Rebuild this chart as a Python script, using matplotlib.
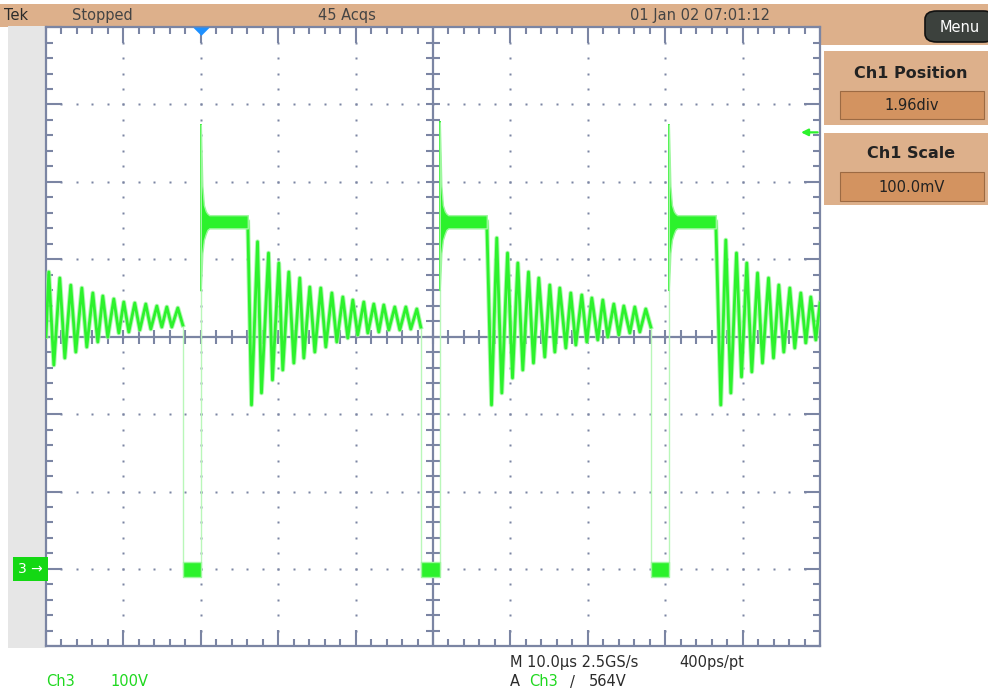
import numpy as np
import matplotlib
matplotlib.use('Agg')
import matplotlib.pyplot as plt
from matplotlib import font_manager
from matplotlib.patches import Rectangle, FancyBboxPatch
from matplotlib.path import Path
from matplotlib.ticker import MultipleLocator

# ---------------- data (time in us relative to trigger, Ch3 voltage in V) ----------------
ring0_t = [-20.0, -19.64, -18.99, -18.22, -17.57, -16.80, -16.15, -15.37, -14.73, -13.95,
           -13.31, -12.66, -12.02, -11.24, -10.59, -9.95, -9.30, -8.53, -7.88, -7.11,
           -6.46, -5.68, -5.04, -4.39, -3.75, -2.97, -2.33]
ring0_v = [300.0, 383.6, 263.4, 375.8, 272.5, 366.6, 280.2, 362.9, 286.7, 356.5,
           293.2, 352.6, 299.6, 348.7, 304.8, 344.8, 306.1, 343.5, 308.7, 342.2,
           309.9, 339.6, 312.5, 338.4, 312.5, 337.1, 315.1]

ring1_t = [6.07, 6.55, 7.33, 7.84, 8.75, 9.26, 10.08, 10.59, 11.37, 12.02, 12.79, 13.31,
           14.08, 14.73, 15.50, 16.15, 16.93, 17.57, 18.35, 18.99, 19.64, 20.28, 21.06,
           21.58, 22.35, 23.00, 23.64, 24.29, 25.06, 25.71, 26.49, 27.13, 27.91, 28.42]
ring1_v = [448.2, 211.8, 422.7, 227.3, 408.1, 244.1, 395.2, 257.0, 383.6, 266.0, 375.8,
           272.5, 364.2, 280.2, 362.9, 286.7, 356.5, 293.2, 351.3, 298.3, 347.4, 302.2,
           344.8, 304.8, 342.2, 306.1, 341.0, 308.7, 338.4, 308.7, 338.4, 309.9, 335.8, 312.5]

ring2_t = [36.95, 37.56, 38.24, 38.89, 39.63, 40.27, 40.96, 41.60, 42.34, 42.98, 43.67,
           44.44, 45.09, 45.74, 46.38, 47.16, 47.80, 48.45, 49.22, 49.87, 50.52, 51.29,
           51.94, 52.58, 53.36, 54.01, 54.65, 55.43, 56.07, 56.72, 57.49, 58.14]
ring2_v = [448.2, 211.8, 427.5, 227.3, 408.1, 246.7, 395.2, 257.0, 383.6, 266.0, 375.8,
           273.8, 366.8, 280.2, 362.9, 285.4, 356.5, 289.3, 353.9, 293.2, 350.0, 295.8,
           347.4, 299.6, 342.2, 302.2, 339.7, 304.8, 338.4, 306.1, 335.8, 312.5]

ring3_t = [66.54, 67.18, 67.83, 68.48, 69.21, 69.86, 70.54, 71.19, 71.93, 72.57, 73.35,
           73.99, 74.68, 75.32, 76.10, 76.74, 77.52, 78.17, 78.81, 79.46, 80.0]
ring3_v = [448.2, 211.8, 424.9, 227.3, 408.1, 248.0, 395.2, 254.5, 382.3, 266.0, 375.8,
           272.5, 366.8, 280.2, 362.9, 285.4, 356.5, 292.0, 351.3, 295.8, 343.5]

rise_t = [0.0, 30.88, 60.47]            # switching-on instants
spike_v = [574.0, 577.0, 574.0]         # overshoot peaks
plateau_end_t = [6.07, 36.95, 66.54]
low_start_t = [-2.33, 28.42, 58.14]     # end of ringing -> low level
ring_end_v = [315.1, 312.5, 312.5]

spike_dt = [0.2, 0.4, 0.65, 0.85, 1.1]
spike_env_hi = [495.0, 470.0, 462.0, 459.0, 457.0]
spike_env_lo = [408.0, 425.0, 433.0, 438.0, 440.0]
plateau_hi, plateau_lo = 457.0, 440.0
low_hi, low_lo = 9.0, -10.0
edge_bright_v = 360.0

trigger_level = 564.0
ch3_ground = 0.0

# ---------------- styling ----------------
W, H = 988, 691
GC = '#7b85a3'
GREEN = '#2cf22c'
HALO = '#9ef79e'
FAINT = '#b9f7b9'
TAN = '#ddb08b'
BOX = '#d39360'
TXT = '#2b2b2b'

names = {f.name for f in font_manager.fontManager.ttflist}
NARROW = 'Liberation Sans Narrow' if 'Liberation Sans Narrow' in names else 'DejaVu Sans'

fig = plt.figure(figsize=(W / 100, H / 100), dpi=100)
fig.patch.set_facecolor('white')

def prect(x0, y0, x1, y1, **kw):
    r = Rectangle((x0 / W, 1 - y1 / H), (x1 - x0) / W, (y1 - y0) / H,
                  transform=fig.transFigure, **kw)
    fig.patches.append(r)
    return r

def ptext(x, y, s, **kw):
    return fig.text(x / W, 1 - y / H, s, **kw)

# background pieces
prect(0, 4, W, 26.5, fc=TAN, ec='none', zorder=0)
prect(8, 26, 46, 648, fc='#e6e6e6', ec='none', zorder=0)
prect(820, 26, W, 45, fc=TAN, ec='none', zorder=0)
# panels
prect(824, 51, W, 125, fc=TAN, ec='none', zorder=0)
prect(840, 91, 984, 119, fc=BOX, ec='#9c6a43', lw=0.8, zorder=1)
prect(824, 133, W, 205, fc=TAN, ec='none', zorder=0)
prect(840, 172, 984, 201, fc=BOX, ec='#9c6a43', lw=0.8, zorder=1)
menu = FancyBboxPatch((925 / W, 1 - 42 / H), 70 / W, 31 / H,
                      boxstyle='round,pad=0,rounding_size=0.012', transform=fig.transFigure,
                      fc='#3c413d', ec='#111111', lw=1.2, zorder=2)
fig.patches.append(menu)

# texts of the header / panels
ptext(4, 15.5, 'Tek', fontsize=10.5, color=TXT, va='center', family=NARROW)
ptext(72, 15.5, 'Stopped', fontsize=10.5, color='#444444', va='center', family=NARROW)
ptext(318, 15.5, '45 Acqs', fontsize=10.5, color='#444444', va='center', family=NARROW)
ptext(630, 15.5, '01 Jan 02 07:01:12', fontsize=10.5, color='#444444', va='center', family=NARROW)
ptext(960, 27, 'Menu', fontsize=10.5, color='white', va='center', ha='center', family=NARROW, zorder=3)
ptext(911, 73, 'Ch1 Position', fontsize=11.5, weight='bold', color='#222222', va='center', ha='center')
ptext(912, 105, '1.96div', fontsize=10.5, color='#222222', va='center', ha='center', family=NARROW, zorder=3)
ptext(911, 154, 'Ch1 Scale', fontsize=11.5, weight='bold', color='#222222', va='center', ha='center')
ptext(912, 187, '100.0mV', fontsize=10.5, color='#222222', va='center', ha='center', family=NARROW, zorder=3)

# footer
ptext(510, 663, 'M 10.0\u00b5s 2.5GS/s', fontsize=10.5, color=TXT, va='center', family=NARROW)
ptext(679, 663, '400ps/pt', fontsize=10.5, color=TXT, va='center', family=NARROW)
ptext(510, 682, 'A', fontsize=10.5, color=TXT, va='center', family=NARROW)
ptext(529, 682, 'Ch3', fontsize=10.5, color='#1fd81f', va='center', family=NARROW)
ptext(570, 682, '/', fontsize=10.5, color=TXT, va='center', family=NARROW)
ptext(589, 682, '564V', fontsize=10.5, color=TXT, va='center', family=NARROW)
ptext(46, 682, 'Ch3', fontsize=10.5, color='#1fd81f', va='center', family=NARROW)
ptext(110, 682, '100V', fontsize=10.5, color='#1fd81f', va='center', family=NARROW)

# ---------------- graticule axes ----------------
ax = fig.add_axes([46 / W, (H - 646.3) / H, 774 / W, 619.2 / H])
ax.set_zorder(5)
ax.set_xlim(-20, 80)
ax.set_ylim(-100, 700)
ax.set_facecolor('white')
for s in ax.spines.values():
    s.set_color(GC)
    s.set_linewidth(1.6)
ax.xaxis.set_major_locator(MultipleLocator(10))
ax.xaxis.set_minor_locator(MultipleLocator(2))
ax.yaxis.set_major_locator(MultipleLocator(100))
ax.yaxis.set_minor_locator(MultipleLocator(20))
ax.tick_params(which='both', direction='in', top=True, right=True, bottom=True, left=True,
               labelbottom=False, labelleft=False, color=GC, width=1.5)
ax.tick_params(which='major', length=11.5)
ax.tick_params(which='minor', length=5)

xc, yc = 30, 300
x_major = np.arange(-10, 80, 10)
y_major = np.arange(0, 700, 100)
x_minor = np.arange(-18, 80, 2)
y_minor = np.arange(-80, 700, 20)
for xg in x_major:
    if xg != xc:
        ax.plot(np.full(len(y_minor), xg), y_minor, ls='none', marker='s', ms=1.5,
                mec='none', color=GC, zorder=1)
for yg in y_major:
    if yg != yc:
        ax.plot(x_minor, np.full(len(x_minor), yg), ls='none', marker='s', ms=1.5,
                mec='none', color=GC, zorder=1)
ax.axvline(xc, color=GC, lw=1.6, zorder=1)
ax.axhline(yc, color=GC, lw=1.6, zorder=1)
ax.plot(x_minor, np.full(len(x_minor), yc), ls='none', marker='|', ms=9.5, mew=1.5, color=GC, zorder=1)
ax.plot(np.full(len(y_minor), xc), y_minor, ls='none', marker='_', ms=9.5, mew=1.5, color=GC, zorder=1)

# ---------------- waveform ----------------
for t, v in [(ring0_t, ring0_v), (ring1_t, ring1_v), (ring2_t, ring2_v), (ring3_t, ring3_v)]:
    ax.plot(t, v, color=HALO, lw=3.4, zorder=3, solid_joinstyle='round', alpha=0.8)
    ax.plot(t, v, color=GREEN, lw=2.0, zorder=4, solid_joinstyle='round')

for k in range(len(rise_t)):
    tr = rise_t[k]
    # low level band
    ax.fill_between([low_start_t[k], tr], [low_lo, low_lo], [low_hi, low_hi],
                    color=GREEN, lw=1.0, edgecolor=HALO, zorder=3)
    # falling edge (faint)
    ax.plot([low_start_t[k], low_start_t[k]], [ring_end_v[k], ch3_ground],
            color=FAINT, lw=1.0, zorder=2)
    # rising edge
    ax.plot([tr, tr], [ch3_ground, edge_bright_v], color=FAINT, lw=1.0, zorder=2)
    ax.plot([tr, tr], [edge_bright_v, spike_v[k]], color=GREEN, lw=1.4, zorder=4)
    # overshoot + plateau band
    tt = [tr] + [tr + d for d in spike_dt] + [plateau_end_t[k]]
    hi = [spike_v[k]] + spike_env_hi + [plateau_hi]
    lo = [edge_bright_v] + spike_env_lo + [plateau_lo]
    ax.fill_between(tt, lo, hi, color=GREEN, lw=1.0, edgecolor=HALO, zorder=4)

# trigger position marker (top) and trigger level arrow (right)
tri = Path([(-1, 0), (1, 0), (0, -1), (-1, 0)], [Path.MOVETO, Path.LINETO, Path.LINETO, Path.CLOSEPOLY])
ax.plot([rise_t[0]], [700], marker=tri, ms=12, color='#1e90ff', mec='none',
        clip_on=False, zorder=6)
ax.annotate('', xy=(0.9755, trigger_level), xytext=(0.997, trigger_level),
            xycoords=ax.get_yaxis_transform(), textcoords=ax.get_yaxis_transform(),
            arrowprops=dict(arrowstyle='-|>', color=GREEN, lw=1.6, mutation_scale=10,
                            shrinkA=0, shrinkB=0), annotation_clip=False, zorder=6)

# Ch3 ground marker
ax.text(-0.004, ch3_ground, '3 \u2192', transform=ax.get_yaxis_transform(), ha='right',
        va='center', color='white', fontsize=10, family=NARROW, clip_on=False,
        bbox=dict(boxstyle='square,pad=0.35', fc='#14d814', ec='none'), zorder=6)

fig.savefig('out.png', dpi=100, facecolor='white')
